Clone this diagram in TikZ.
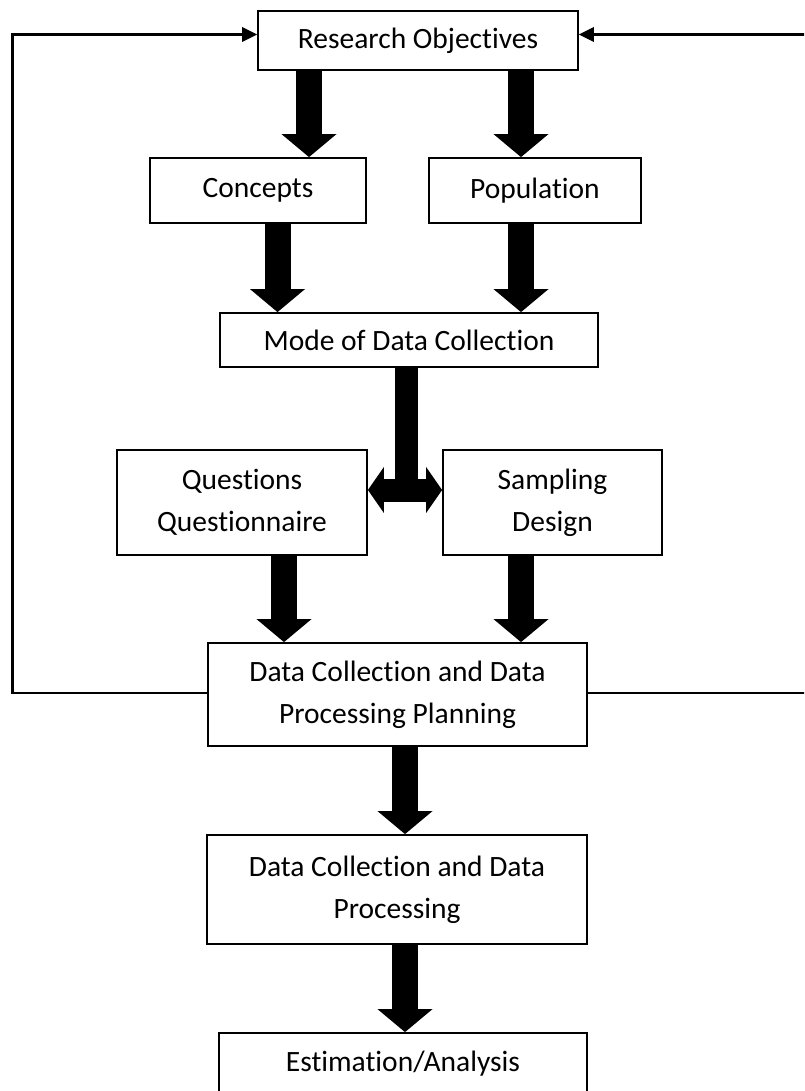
\documentclass[tikz,border=0pt]{standalone}
\usepackage{fontspec}
\setmainfont{Carlito}[Ligatures=NoCommon]
\usetikzlibrary{arrows.meta}

\tikzset{
  stage/.style={draw, line width=1.8pt, inner sep=0pt, align=center,
    font=\fontsize{29.5}{42}\selectfont},
  bigarrow/.style={line width=26pt, line cap=butt,
    -{Triangle[width=55pt,length=23pt,line width=0pt]}},
  twoway/.style={line width=23pt, line cap=butt,
    {Triangle[width=46pt,length=16pt,line width=0pt]}-{Triangle[width=46pt,length=16pt,line width=0pt]}},
  stem/.style={line width=23pt, line cap=butt},
  feedback/.style={line width=2.5pt, line join=miter,
    -{Triangle[width=15pt,length=15pt,line width=0pt]}}
}

\begin{document}
\begin{tikzpicture}[x=1pt, y=-1pt]
\useasboundingbox (0,0) rectangle (804,1091);
\clip (0,0) rectangle (804,1091);

% stages of the survey process
\node[stage, minimum width=320pt, minimum height=59pt]  (ro)   at (418,40.5)   {\raisebox{-2pt}{Research Objectives}};
\node[stage, minimum width=216pt, minimum height=65pt]  (conc) at (258,190.5)  {Concepts};
\node[stage, minimum width=212pt, minimum height=65pt]  (pop)  at (535,190.5)  {Population};
\node[stage, minimum width=378pt, minimum height=54pt]  (mode) at (409,340)    {\raisebox{-1pt}{Mode of Data Collection}};
\node[stage, minimum width=250pt, minimum height=105pt] (ques) at (242,502.5)  {Questions\\Questionnaire};
\node[stage, minimum width=219pt, minimum height=105pt] (samp) at (552.5,502.5){Sampling\\Design};
\node[stage, minimum width=379pt, minimum height=103pt] (plan) at (397.5,694.5){Data Collection and Data\\Processing Planning};
\node[stage, minimum width=380pt, minimum height=109pt] (proc) at (397,889.5)  {Data Collection and Data\\Processing};
\node[stage, minimum width=368pt, minimum height=61pt]  (est)  at (403,1063.5) {Estimation/Analysis};

% columns and rows used by the connectors
\coordinate (cA) at (309,0);
\coordinate (cB) at (521,0);
\coordinate (cC) at (277.5,0);
\coordinate (cD) at (406,0);
\coordinate (cE) at (284,0);
\coordinate (cF) at (405,0);
\coordinate (rQ) at (0,490);
\coordinate (fbL) at (12.7,0);
\coordinate (fbR) at (812,0);
\coordinate (fbTop) at (0,34.5);
\coordinate (fbBot) at (0,693);

% block arrows
\draw[bigarrow] (ro.south -| cA) -- (conc.north -| cA);
\draw[bigarrow] (ro.south -| cB) -- (pop.north -| cB);
\draw[bigarrow] (conc.south -| cC) -- (mode.north -| cC);
\draw[bigarrow] (pop.south -| cB) -- (mode.north -| cB);
\draw[stem] (mode.south -| cD) -- (cD |- rQ);
\draw[twoway] (ques.east |- rQ) -- (samp.west |- rQ);
\draw[bigarrow] (ques.south -| cE) -- (plan.north -| cE);
\draw[bigarrow] (samp.south -| cB) -- (plan.north -| cB);
\draw[bigarrow] (plan.south -| cF) -- (proc.north -| cF);
\draw[bigarrow] (proc.south -| cF) -- (est.north -| cF);

% feedback loops back to the objectives
\draw[feedback] (plan.west |- fbBot) -| (fbL |- fbTop) -- (ro.west |- fbTop);
\draw[feedback] (plan.east |- fbBot) -| (fbR |- fbTop) -- (ro.east |- fbTop);
\end{tikzpicture}
\end{document}
